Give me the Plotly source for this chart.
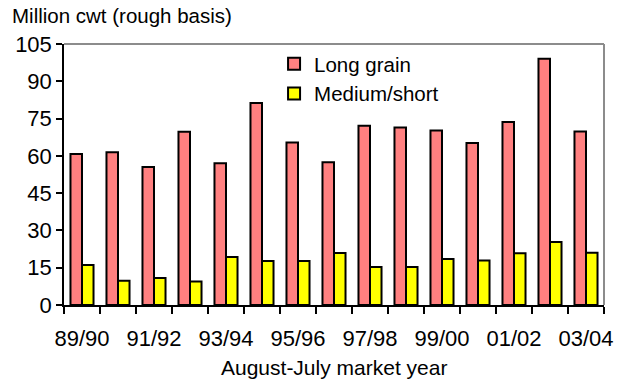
import plotly.graph_objects as go

years = ["89/90", "90/91", "91/92", "92/93", "93/94", "94/95", "95/96", "96/97",
         "97/98", "98/99", "99/00", "00/01", "01/02", "02/03", "03/04"]
long_grain = [60.7, 61.5, 55.5, 69.7, 57.0, 81.3, 65.4, 57.4,
              72.1, 71.4, 70.2, 65.2, 73.6, 99.1, 69.8]
medium_short = [16.1, 9.8, 10.9, 9.5, 19.3, 17.7, 17.7, 20.9,
                15.3, 15.3, 18.5, 17.9, 20.8, 25.3, 21.0]
y_ticks = [0, 15, 30, 45, 60, 75, 90, 105]

idx = list(range(len(years)))
label_idx = idx[::2]

font = "Liberation Sans, Arial, sans-serif"

fig = go.Figure()
fig.add_trace(go.Bar(
    x=idx, y=long_grain, name="Long grain", legendgroup="a",
    marker=dict(color="#FF8080", line=dict(color="black", width=2)),
))
fig.add_trace(go.Bar(
    x=idx, y=medium_short, name="Medium/short", legendgroup="b",
    marker=dict(color="#FFFF00", line=dict(color="black", width=2)),
))

fig.update_layout(
    width=623, height=379,
    margin=dict(l=64, r=19, t=44, b=74, autoexpand=False),
    paper_bgcolor="white", plot_bgcolor="white",
    barmode="group", bargap=0.36, bargroupgap=0.0,
    font=dict(family=font, size=20, color="black"),
    showlegend=True,
    legend=dict(
        x=0.389, y=1.0, xanchor="left", yanchor="top",
        bgcolor="rgba(0,0,0,0)", tracegroupgap=11,
        traceorder="normal", font=dict(size=20.5),
    ),
    xaxis=dict(
        range=[-0.5, len(years) - 0.5], automargin=False,
        tickvals=label_idx, ticktext=[years[i] for i in label_idx],
        ticks="outside", ticklen=13, tickcolor="rgba(0,0,0,0)",
        showgrid=False, zeroline=False,
        showline=True, linecolor="black", linewidth=1.5,
        mirror=False, tickfont=dict(size=22),
        minor=dict(tick0=-0.5, dtick=1, ticks="outside", ticklen=7,
                   tickcolor="black", tickwidth=1.5, showgrid=False),
    ),
    yaxis=dict(
        range=[0, 105], tickvals=y_ticks, automargin=False,
        ticks="outside", ticklen=6, tickcolor="black", tickwidth=1.5,
        showgrid=False, zeroline=False,
        showline=True, linecolor="black", linewidth=1.5,
        tickfont=dict(size=22),
    ),
    annotations=[
        dict(text="Million cwt (rough basis)", xref="paper", yref="paper",
             x=-0.1, y=1.0, xanchor="left", yanchor="bottom", yshift=15,
             showarrow=False, font=dict(size=20.5)),
        dict(text="August-July market year", xref="paper", yref="paper",
             x=0.5, y=0.0, xanchor="center", yanchor="top", yshift=-49,
             showarrow=False, font=dict(size=21)),
    ],
)

# Gray frame on the top and right sides of the plot area
fig.add_shape(type="line", xref="paper", yref="paper", x0=0, x1=1, y0=1, y1=1,
              line=dict(color="#8C8C8C", width=2))
fig.add_shape(type="line", xref="paper", yref="paper", x0=1, x1=1, y0=0, y1=1,
              line=dict(color="#8C8C8C", width=2))

fig.write_html("out.html")
